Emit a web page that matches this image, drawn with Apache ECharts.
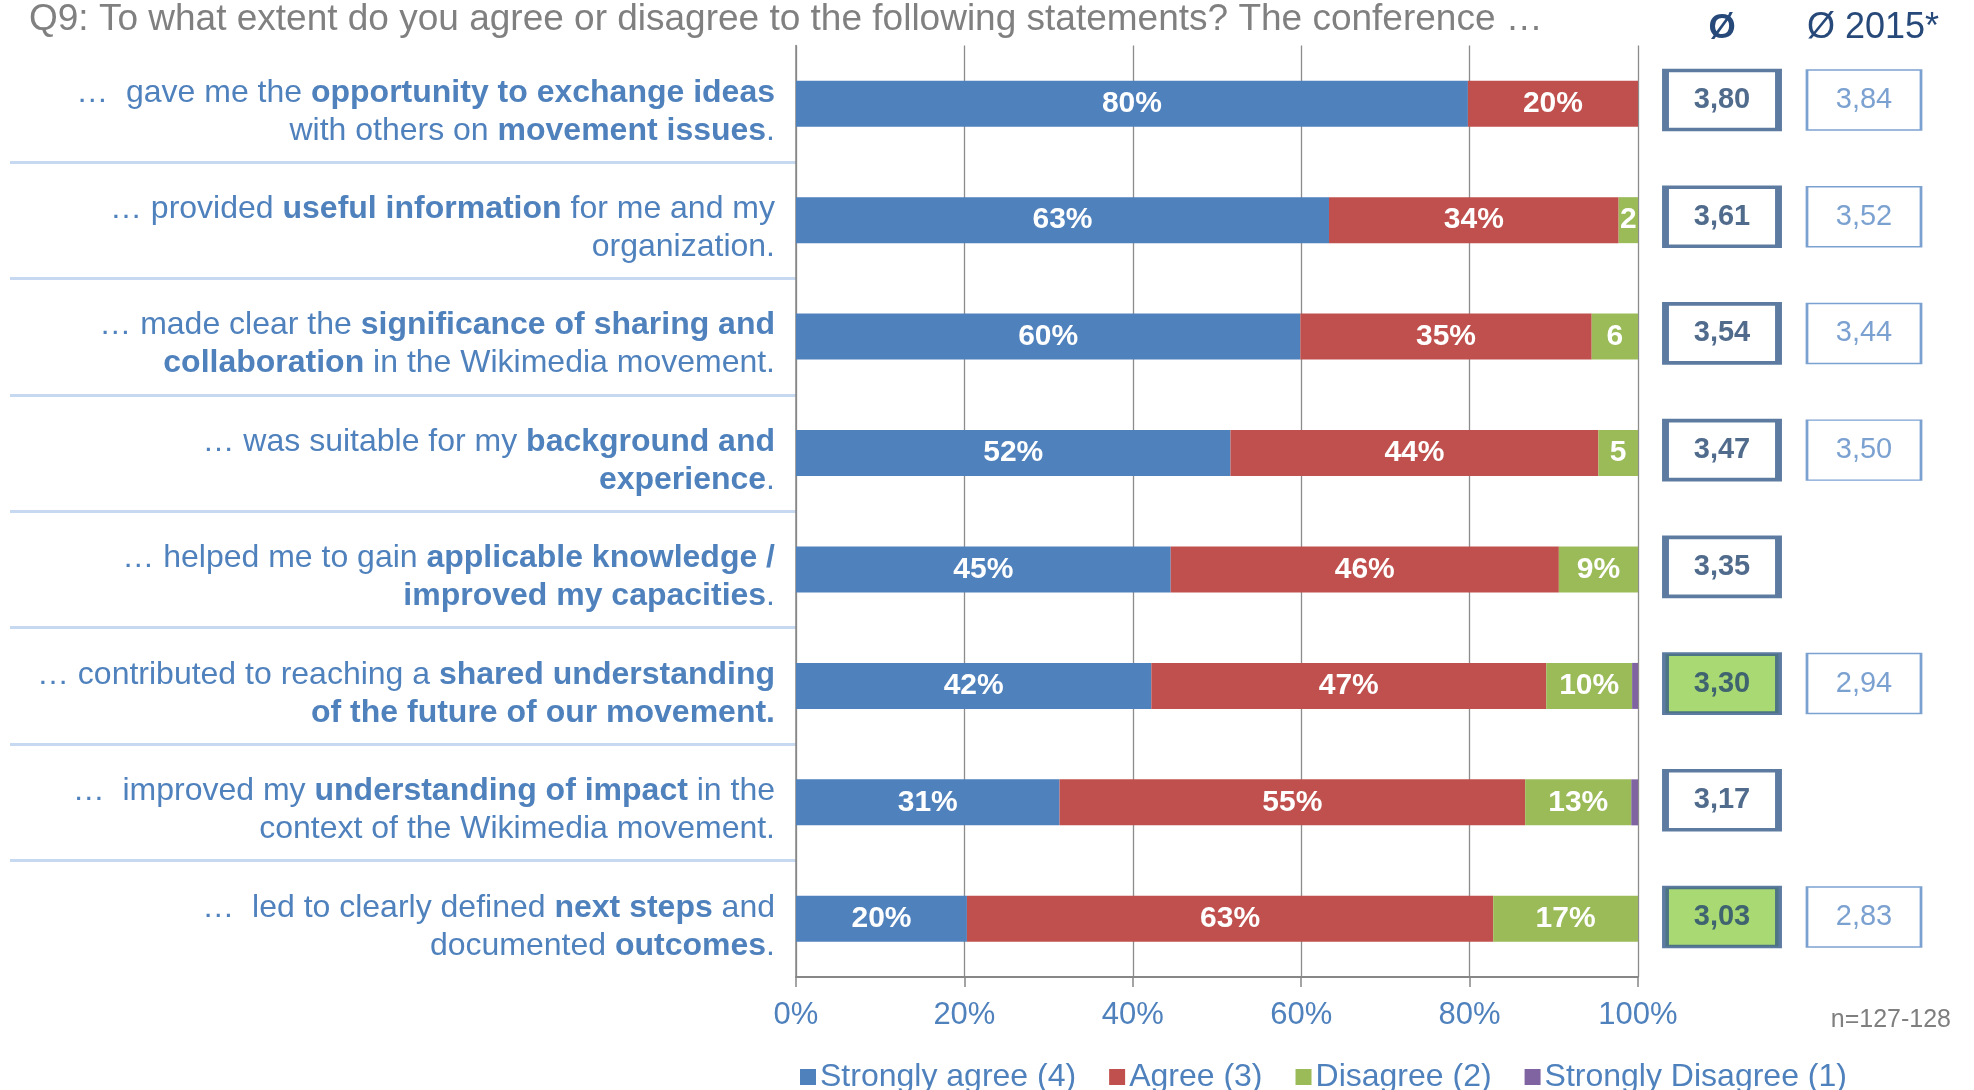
<!DOCTYPE html>
<html><head><meta charset="utf-8">
<script src="https://cdn.jsdelivr.net/npm/echarts@6/dist/echarts.min.js"></script>
<style>html,body{margin:0;padding:0;background:#fff}#chart{width:1974px;height:1090px}</style>
</head><body><div id="chart"></div>
<script>
const titleText = 'Q9: To what extent do you agree or disagree to the following statements? The conference …';
const categories = [
  '…  gave me the **opportunity to exchange ideas**\nwith others on **movement issues**.',
  '… provided **useful information** for me and my\norganization.',
  '… made clear the **significance of sharing and**\n**collaboration** in the Wikimedia movement.',
  '… was suitable for my **background and**\n**experience**.',
  '… helped me to gain **applicable knowledge /**\n**improved my capacities**.',
  '… contributed to reaching a **shared understanding**\n**of the future of our movement.**',
  '…  improved my **understanding of impact** in the\ncontext of the Wikimedia movement.',
  '…  led to clearly defined **next steps** and\ndocumented **outcomes**.'
];
const seriesNames = ['Strongly agree (4)', 'Agree (3)', 'Disagree (2)', 'Strongly Disagree (1)'];
const stronglyAgree    = [79.8, 63.3, 59.9, 51.6, 44.5, 42.2, 31.3, 20.3];
const agree            = [20.2, 34.4, 34.6, 43.7, 46.1, 46.9, 55.3, 62.5];
const disagree         = [0,    2.3,  5.5,  4.7,  9.4,  10.2, 12.6, 17.2];
const stronglyDisagree = [0,    0,    0,    0,    0,    0.8,  0.8,  0];
const xTickValues = [0, 20, 40, 60, 80, 100];
const average     = [3.80, 3.61, 3.54, 3.47, 3.35, 3.30, 3.17, 3.03];
const average2015 = [3.84, 3.52, 3.44, 3.50, null, 2.94, null, 2.83];
const improvedSignificantly = [false, false, false, false, false, true, false, true];
const columnHeaders = ['Ø', 'Ø 2015*'];
const sampleNote = 'n=127-128';

const colors = ['#4F81BD', '#C0504D', '#9BBB59', '#8064A2'];
const seriesValues = [stronglyAgree, agree, disagree, stronglyDisagree];
const FONT = 'Liberation Sans, Arial, sans-serif';

function toRich(s) {
  return s.split('\n').map(line => {
    return line.split('**').map((seg, i) => seg ? ('{' + (i % 2 ? 'b' : 'n') + '|' + seg + '}') : '').join('');
  }).join('\n');
}
const richCats = categories.map(toRich);
const fmtNum = v => v.toFixed(2).replace('.', ',');

const chart = echarts.init(document.getElementById('chart'), null, {renderer: 'canvas'});

const barSeries = seriesNames.map((name, k) => ({
  name: name,
  type: 'bar',
  stack: 'total',
  xAxisIndex: 0, yAxisIndex: 0,
  barWidth: 46,
  itemStyle: {color: colors[k]},
  label: {
    show: true, position: 'inside', color: '#fff', fontWeight: 'bold',
    fontSize: 30, fontFamily: FONT,
    formatter: p => p.value < 1.5 ? '' : (p.value < 8 ? String(Math.round(p.value)) : Math.round(p.value) + '%')
  },
  emphasis: {disabled: true},
  data: seriesValues[k]
}));

const avgData = average.map((v, i) => ({
  value: [0, i, v],
  itemStyle: {color: improvedSignificantly[i] ? '#92D050' : '#FFFFFF', borderColor: '#355A8A', borderWidth: 5}
}));
const avg2015Data = [];
average2015.forEach((v, i) => { if (v != null) avg2015Data.push({value: [1, i, v]}); });

const option = {
  animation: false,
  backgroundColor: '#fff',
  title: [
    {text: titleText, left: 24, top: -6,
     textStyle: {fontSize: 37, fontWeight: 'normal', color: '#808080', fontFamily: FONT, lineHeight: 42}},
    {text: sampleNote, right: 18, top: 1003,
     textStyle: {fontSize: 25, fontWeight: 'normal', color: '#7F7F7F', fontFamily: FONT}}
  ],
  legend: {
    left: 795, top: 1056,
    itemWidth: 16, itemHeight: 16, itemGap: 33,
    icon: 'rect',
    textStyle: {fontSize: 32, color: '#4F81BD', fontFamily: FONT, padding: [0, 0, 0, -1]},
    data: seriesNames
  },
  grid: [
    {left: 796, right: 336, top: 45.5, bottom: 113, containLabel: false},
    {left: 1651, right: 39, top: 41.6, bottom: 114.6},
    {left: 10, right: 1178, top: 45.5, bottom: 113}
  ],
  xAxis: [
    {type: 'value', gridIndex: 0, min: xTickValues[0], max: xTickValues[xTickValues.length - 1],
     interval: xTickValues[1] - xTickValues[0],
     axisLine: {show: true, lineStyle: {color: '#878787', width: 2}},
     axisTick: {show: true, length: 10, lineStyle: {color: '#878787', width: 1.5}},
     splitLine: {show: true, lineStyle: {color: '#8C8C8C', width: 1.3}},
     axisLabel: {formatter: '{value}%', color: '#4F81BD', fontSize: 31, margin: 23, fontFamily: FONT}},
    {type: 'category', gridIndex: 1, position: 'top', data: columnHeaders,
     axisLine: {show: false}, axisTick: {show: false}, splitLine: {show: false},
     axisLabel: {margin: -4, interval: 0, fontFamily: FONT,
       formatter: (v, i) => i === 0 ? '{h0|' + v + '}' : '{h1|' + v + '}',
       rich: {h0: {fontSize: 35, fontWeight: 'bold', color: '#26497A', fontFamily: FONT},
              h1: {fontSize: 36, fontWeight: 'normal', color: '#26497A', fontFamily: FONT, padding: [0, 0, 0, 18]}}}},
    {type: 'value', gridIndex: 2, show: false, min: 0, max: 1}
  ],
  yAxis: [
    {type: 'category', gridIndex: 0, inverse: true, data: richCats,
     axisLine: {show: true, lineStyle: {color: '#878787', width: 1.5}},
     axisTick: {show: false},
     axisLabel: {margin: 21, interval: 0, align: 'right', padding: [16, 0, 0, 0],
       formatter: v => v,
       rich: {
         n: {fontSize: 32, color: '#4F81BD', lineHeight: 38, fontFamily: FONT, align: 'right'},
         b: {fontSize: 32, color: '#4F81BD', fontWeight: 'bold', lineHeight: 38, fontFamily: FONT, align: 'right'}
       }}},
    {type: 'category', gridIndex: 1, inverse: true, data: richCats, show: false},
    {type: 'category', gridIndex: 2, inverse: true, data: richCats,
     axisLine: {show: false}, axisTick: {show: false}, axisLabel: {show: false},
     splitLine: {show: true, interval: 0, showMinLine: false, showMaxLine: false,
       lineStyle: {color: '#C6D9F1', width: 3}}}
  ],
  series: barSeries.concat([
    {type: 'scatter', xAxisIndex: 1, yAxisIndex: 1, symbol: 'rect', symbolSize: [113, 59],
     emphasis: {disabled: true}, silent: true,
     label: {show: true, position: 'inside', fontSize: 29, fontWeight: 'bold', color: '#24466F',
       fontFamily: FONT, formatter: p => fmtNum(p.value[2])},
     data: avgData},
    {type: 'scatter', xAxisIndex: 1, yAxisIndex: 1, symbol: 'rect', symbolSize: [114, 60],
     emphasis: {disabled: true}, silent: true,
     itemStyle: {color: '#FFFFFF', borderColor: '#5A8AC6', borderWidth: 2},
     label: {show: true, position: 'inside', fontSize: 29, fontWeight: 'normal', color: '#5A8AC6',
       fontFamily: FONT, formatter: p => fmtNum(p.value[2])},
     data: avg2015Data}
  ])
};
chart.setOption(option);
</script>
</body></html>
